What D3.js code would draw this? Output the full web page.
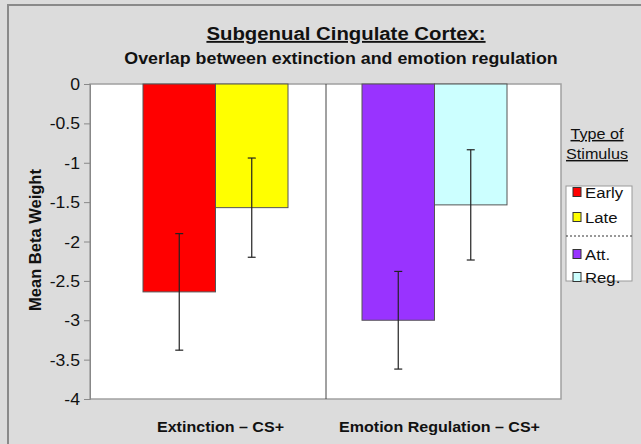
<!DOCTYPE html>
<html>
<head>
<meta charset="utf-8">
<script src="https://cdn.jsdelivr.net/npm/d3@7"></script>
<style>
  body { margin: 0; background: #dcdcdc; }
  svg { display: block; font-family: Arial, "Liberation Sans", sans-serif; }
</style>
</head>
<body>
<script>
"use strict";
(function(){
    const conditions = ["Extinction – CS+", "Emotion Regulation – CS+"];
    const stimuli = ["Early", "Late", "Att.", "Reg."];
    const barGroups = [["Early", "Late"], ["Att.", "Reg."]];
    const means = [-2.64, -1.57, -3.0, -1.535];
    const errors = [0.74, 0.63, 0.62, 0.70];
    const yTicks = [0, -0.5, -1, -1.5, -2, -2.5, -3, -3.5, -4];

    const colors = {
        "Early": "#ff0000",
        "Late": "#ffff00",
        "Att.": "#9933ff",
        "Reg.": "#ccffff"
    }

    const m = { width: 641, height: 444, left: 90, right: 561, top: 84, bottom: 399 };
    const stretch = 1.1;

    const svg = d3.select("body").append("svg")
        .attr("width", m.width)
        .attr("height", m.height);

    // text helper, the source picture is a bit wide
    function label(x, y, txt, size, opts) {
        opts = opts || {};
        const t = svg.append("text")
            .attr("transform", `translate(${x},${y}) scale(${stretch},1)`)
            .attr("text-anchor", opts.anchor || "middle")
            .style("font-size", size + "px")
            .style("font-weight", opts.bold ? "bold" : "normal")
            .attr("fill", "#111")
            .text(txt);
        if (opts.underline) t.style("text-decoration", "underline");
        return t;
    }

    // chart frame
    svg.append("rect")
        .attr("x", 8).attr("y", 5)
        .attr("width", 660).attr("height", 460)
        .attr("fill", "#dcdcdc")
        .attr("stroke", "#8a8a8a")
        .attr("stroke-width", 2);

    const scaleY = d3.scaleLinear()
        .domain([0, -4])
        .range([m.top, m.bottom]);

    const scaleX = d3.scaleBand()
        .domain(conditions)
        .range([106, 544]);

    const scaleInner = d3.scaleBand()
        .domain([0, 1])
        .range([0, 145]);

    // plot area
    svg.append("rect")
        .attr("x", m.left).attr("y", m.top)
        .attr("width", m.right - m.left).attr("height", m.bottom - m.top)
        .attr("fill", "#ffffff")
        .attr("stroke", "#a0a0a0")
        .attr("stroke-width", 1.5);

    // divider between conditions
    svg.append("line")
        .attr("x1", 326).attr("x2", 326)
        .attr("y1", m.top).attr("y2", m.bottom)
        .attr("stroke", "#444").attr("stroke-width", 1);

    // y axis
    const yAxis = d3.axisLeft(scaleY)
        .tickValues(yTicks)
        .tickSize(6)
        .tickFormat(d => String(d));
    const gy = svg.append("g")
        .attr("transform", `translate(${m.left},0)`)
        .call(yAxis);
    gy.select(".domain").attr("stroke", "#888");
    gy.selectAll(".tick line").attr("stroke", "#888");
    gy.selectAll(".tick text")
        .attr("x", null).attr("dy", null)
        .attr("transform", `translate(-10,5.5) scale(${stretch},1)`)
        .attr("fill", "#111")
        .style("font-size", "16px")
        .style("font-family", "Arial, 'Liberation Sans', sans-serif");

    // bars
    const barData = [];
    barGroups.forEach((grp, i) => {
        grp.forEach((s, j) => {
            const k = stimuli.indexOf(s);
            barData.push({ cond: conditions[i], idx: j, stim: s, mean: means[k], err: errors[k] });
        });
    });

    const cx = d => scaleX(d.cond) + (scaleX.bandwidth() - 145) / 2 + scaleInner(d.idx);

    svg.selectAll(".bar")
        .data(barData)
        .enter()
        .append("rect")
        .attr("class", "bar")
        .attr("x", cx)
        .attr("y", scaleY(0))
        .attr("width", scaleInner.bandwidth())
        .attr("height", d => scaleY(d.mean) - scaleY(0))
        .attr("fill", d => colors[d.stim])
        .attr("stroke", "#555")
        .attr("stroke-width", 1);

    // error bars
    const eb = svg.selectAll(".err")
        .data(barData)
        .enter()
        .append("g")
        .attr("class", "err")
        .attr("stroke", "#222")
        .attr("stroke-width", 1.2);
    const mid = d => cx(d) + scaleInner.bandwidth() / 2;
    eb.append("line")
        .attr("x1", mid).attr("x2", mid)
        .attr("y1", d => scaleY(d.mean + d.err))
        .attr("y2", d => scaleY(d.mean - d.err));
    eb.append("line")
        .attr("x1", d => mid(d) - 4).attr("x2", d => mid(d) + 4)
        .attr("y1", d => scaleY(d.mean + d.err))
        .attr("y2", d => scaleY(d.mean + d.err));
    eb.append("line")
        .attr("x1", d => mid(d) - 4).attr("x2", d => mid(d) + 4)
        .attr("y1", d => scaleY(d.mean - d.err))
        .attr("y2", d => scaleY(d.mean - d.err));

    // x labels
    conditions.forEach(c => {
        label(scaleX(c) + scaleX.bandwidth() / 2 + 5, 432, c, 14.6, { bold: true });
    });

    // titles
    label(346, 40, "Subgenual Cingulate Cortex:", 18.5, { bold: true, underline: true });
    label(341, 64, "Overlap between extinction and emotion regulation", 16.2, { bold: true });

    svg.append("text")
        .attr("transform", "translate(41, 240)rotate(-90)")
        .attr("text-anchor", "middle")
        .style("font-size", "16.5px")
        .style("font-weight", "bold")
        .attr("fill", "#111")
        .text("Mean Beta Weight");

    // legend
    label(597, 139, "Type of", 14.7, { underline: true });
    label(597, 159, "Stimulus", 14.7, { underline: true });

    svg.append("rect")
        .attr("x", 566).attr("y", 186)
        .attr("width", 66).attr("height", 95)
        .attr("fill", "#fff")
        .attr("stroke", "#999");
    svg.append("line")
        .attr("x1", 566).attr("x2", 632)
        .attr("y1", 236).attr("y2", 236)
        .attr("stroke", "#333")
        .attr("stroke-dasharray", "2,2");

    const legendY = [192, 217, 254, 277];
    stimuli.forEach((s, i) => {
        svg.append("rect")
            .attr("x", 573).attr("y", legendY[i] - 4.5)
            .attr("width", 8).attr("height", 9)
            .attr("fill", colors[s])
            .attr("stroke", "#333");
        label(585, legendY[i] + 5.5, s, 15.2, { anchor: "start" });
    });
})()
</script>
</body>
</html>
